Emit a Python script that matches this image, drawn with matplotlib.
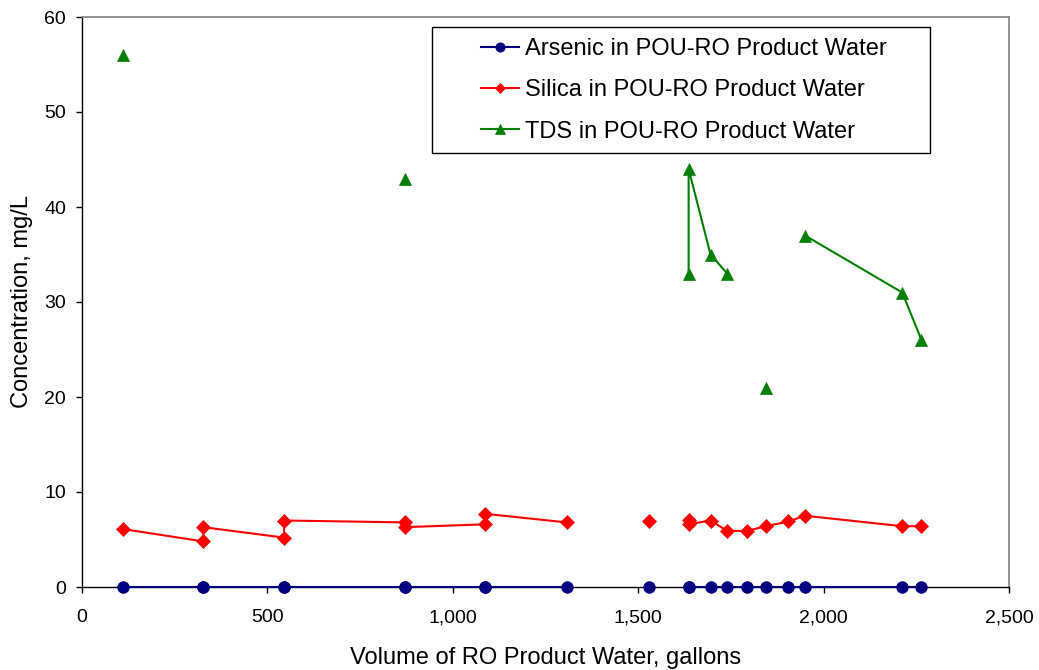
import numpy as np
import matplotlib.pyplot as plt
from matplotlib.patches import Rectangle
from matplotlib.ticker import FuncFormatter, MultipleLocator

plt.rcParams["font.family"] = ["Liberation Sans", "DejaVu Sans"]

nan = np.nan

# Cumulative product water volume at each sample (gallons); NaN rows break the lines
volume = [110, 327, 327, 545, 545, 871, 871, 1088, 1088, 1307, nan, 1530, nan,
          1636, 1636, 1695, 1740, 1793, 1845, 1905, 1950, 2212, 2264]

arsenic = [0, 0, 0, 0, 0, 0, 0, 0, 0, 0, nan, 0, nan,
           0, 0, 0, 0, 0, 0, 0, 0, 0, 0]

silica = [6.1, 4.8, 6.3, 5.2, 7.0, 6.8, 6.3, 6.6, 7.7, 6.8, nan, 6.9, nan,
          7.1, 6.6, 7.0, 5.9, 5.9, 6.4, 6.9, 7.5, 6.4, 6.4]

tds = [56, nan, nan, nan, nan, 43, nan, nan, nan, nan, nan, nan, nan,
       33, 44, 35, 33, nan, 21, nan, 37, 31, 26]

series = [
    ("Arsenic in POU-RO Product Water", arsenic, "#000080", "o", 8.4),
    ("Silica in POU-RO Product Water", silica, "#ff0000", "D", 6.9),
    ("TDS in POU-RO Product Water", tds, "#008000", "^", 8.6),
]

fig = plt.figure(figsize=(10.39, 6.70), dpi=100)
ax = fig.add_axes([82 / 1039, 83 / 670, 927 / 1039, 570 / 670])

for label, values, color, marker, size in series:
    ax.plot(volume, values, color=color, marker=marker, markersize=size,
            markeredgewidth=0.5, linewidth=1.5, label=label, clip_on=False, zorder=3)

ax.set_xlim(0, 2500)
ax.set_ylim(0, 60)
ax.xaxis.set_major_locator(MultipleLocator(500))
ax.yaxis.set_major_locator(MultipleLocator(10))
ax.xaxis.set_major_formatter(FuncFormatter(lambda v, _: f"{v:,.0f}"))

for side in ("top", "right"):
    ax.spines[side].set_color("#808080")
    ax.spines[side].set_linewidth(1.2)
for side in ("left", "bottom"):
    ax.spines[side].set_color("black")
    ax.spines[side].set_linewidth(1.0)

ax.tick_params(axis="y", direction="out", length=4.5, width=1, labelsize=14, pad=7)
ax.tick_params(axis="x", direction="out", length=4, width=1, labelsize=14, pad=12)

ax.set_xlabel("Volume of RO Product Water, gallons", fontsize=17)
ax.set_ylabel("Concentration, mg/L", fontsize=17)
ax.xaxis.set_label_coords(0.5, -0.105)
ax.yaxis.set_label_coords(-0.053, 0.5)

# Legend box drawn separately so the side padding can be wider than the top/bottom
ax.add_patch(Rectangle((432 / 1039, (670 - 153) / 670), 498 / 1039, 126 / 670,
                       transform=fig.transFigure, facecolor="white",
                       edgecolor="black", linewidth=1.0, zorder=5, clip_on=False))
leg = ax.legend(loc="upper left", bbox_to_anchor=(481 / 1039, (670 - 38) / 670),
                bbox_transform=fig.transFigure, frameon=False, fontsize=17,
                handlelength=1.6, handletextpad=0.25, labelspacing=0.82,
                borderpad=0, borderaxespad=0, markerscale=0.8)
leg.set_zorder(6)

fig.savefig("out.png", dpi=100)
